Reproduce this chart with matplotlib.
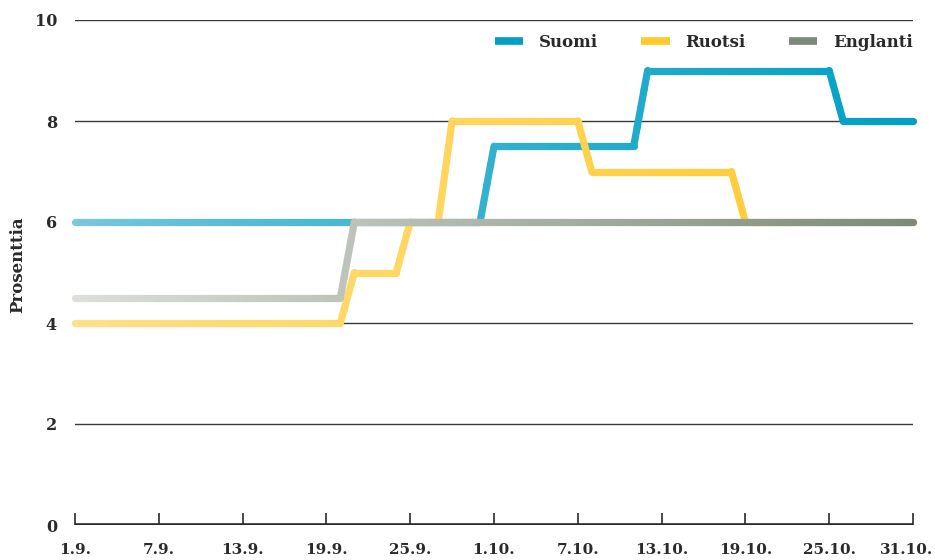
import numpy as np
import matplotlib
matplotlib.use("Agg")
import matplotlib.pyplot as plt
from matplotlib.collections import LineCollection
from matplotlib.lines import Line2D
from matplotlib.colors import to_rgb
from matplotlib.transforms import ScaledTranslation

# Day index 0 = 1.9., 60 = 31.10.
tick_days = [0, 6, 12, 18, 24, 30, 36, 42, 48, 54, 60]
tick_labels = ["1.9.", "7.9.", "13.9.", "19.9.", "25.9.", "1.10.",
               "7.10.", "13.10.", "19.10.", "25.10.", "31.10."]
y_ticks = [0, 2, 4, 6, 8, 10]

# Interest rate (%) at the days where the level changes
suomi_days = [0, 29, 30, 40, 41, 54, 55, 60]
suomi_vals = [6, 6, 7.5, 7.5, 9, 9, 8, 8]

ruotsi_days = [0, 19, 20, 23, 24, 26, 27, 36, 37, 47, 48, 60]
ruotsi_vals = [4, 4, 5, 5, 6, 6, 8, 8, 7, 7, 6, 6]

englanti_days = [0, 19, 20, 60]
englanti_vals = [4.5, 4.5, 6, 6]

series = [
    ("Suomi", suomi_days, suomi_vals, "#7ec8de", "#00a0c6", 0.75),
    ("Ruotsi", ruotsi_days, ruotsi_vals, "#ffe08c", "#ffca2c", 0.9),
    ("Englanti", englanti_days, englanti_vals, "#dcdfda", "#7d8a7b", 1.0),
]

FONT = "DejaVu Serif"
TEXT_COLOR = "#2a2a2a"

W, H = 935, 560
fig = plt.figure(figsize=(W / 100, H / 100), dpi=100)
ax = fig.add_axes([75 / W, 35 / H, (913 - 75) / W, (525 - 20) / H])
ax.set_xlim(0, 60)
ax.set_ylim(0, 10)

for s in ax.spines.values():
    s.set_visible(False)

# horizontal grid
for yv in y_ticks[1:]:
    ax.axhline(yv, color="#3a3a3a", lw=1.0, zorder=1)
# baseline
ax.axhline(0, color="#2a2a2a", lw=2.6, zorder=2, solid_capstyle="butt")


def gradient_line(xs, ys, c0, c1, gamma, lw, z):
    """Draw a stepped polyline whose colour fades from c0 (left) to c1 (right)."""
    c0 = np.array(to_rgb(c0))
    c1 = np.array(to_rgb(c1))
    segs, cols = [], []
    x_min, x_max = xs[0], xs[-1]
    for i in range(len(xs) - 1):
        n = max(2, int(abs(xs[i + 1] - xs[i]) * 4) + 1)
        px = np.linspace(xs[i], xs[i + 1], n)
        py = np.linspace(ys[i], ys[i + 1], n)
        for j in range(n - 1):
            segs.append([(px[j], py[j]), (px[j + 1], py[j + 1])])
            t = ((px[j] + px[j + 1]) / 2 - x_min) / (x_max - x_min)
            cols.append(c0 + (c1 - c0) * t ** gamma)
    lc = LineCollection(segs, colors=cols, linewidths=lw, capstyle="round",
                        joinstyle="round", zorder=z, clip_on=False)
    ax.add_collection(lc)


for k, (name, xs, ys, c0, c1, g) in enumerate(series):
    gradient_line(xs, ys, c0, c1, g, 5.2, 3 + k)

# ticks
ax.set_xticks(tick_days)
ax.set_xticklabels(tick_labels)
ax.tick_params(axis="x", direction="in", length=9, width=1.2, color="#2a2a2a",
               pad=13, labelsize=11)
ax.set_yticks(y_ticks)
ax.set_yticklabels([str(v) for v in y_ticks])
ax.tick_params(axis="y", length=0, pad=13, labelsize=11.5)
for lab in ax.get_xticklabels() + ax.get_yticklabels():
    lab.set_fontfamily(FONT)
    lab.set_fontweight("bold")
    lab.set_color(TEXT_COLOR)

# keep the last date label inside the figure
last = ax.get_xticklabels()[-1]
last.set_transform(last.get_transform() + ScaledTranslation(-6 / 100, 0, fig.dpi_scale_trans))

ax.set_ylabel("Prosenttia", fontfamily=FONT, fontweight="bold", fontsize=12,
              color=TEXT_COLOR)
ax.yaxis.set_label_coords(-0.058, 0.515)

handles = [Line2D([], [], color=s[4], lw=5.5, solid_capstyle="butt")
           for s in series]
leg = ax.legend(handles, [s[0] for s in series], ncol=3, loc="upper right",
                bbox_to_anchor=(1.0, 0.972), frameon=False, handlelength=1.7,
                handletextpad=0.95, columnspacing=2.6, borderaxespad=0,
                borderpad=0,
                prop={"family": FONT, "weight": "bold", "size": 12})
for t in leg.get_texts():
    t.set_color(TEXT_COLOR)

fig.savefig("out.png", dpi=100)
